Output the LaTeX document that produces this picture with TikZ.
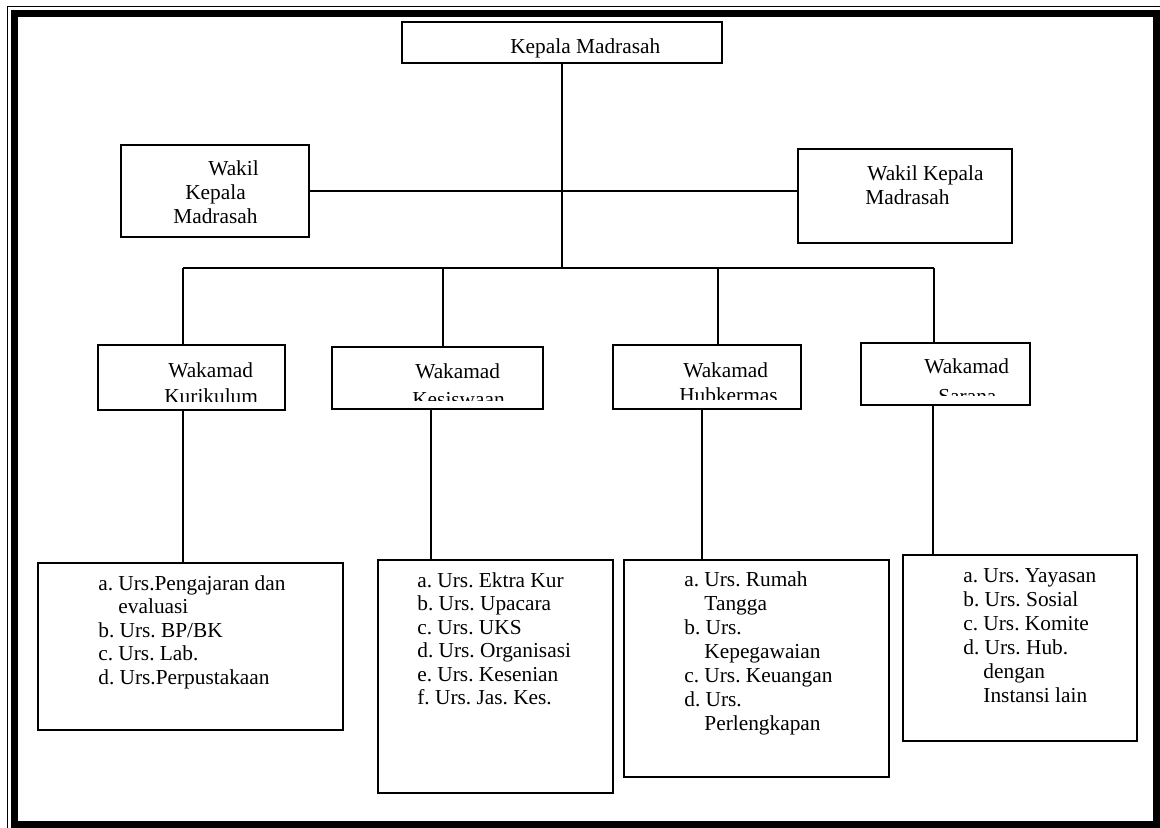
\documentclass[tikz,border=0pt]{standalone}
\usepackage{fontspec}
\setmainfont{Liberation Serif}
\usetikzlibrary{fit}
\begin{document}
\frenchspacing
\begin{tikzpicture}[x=0.6pt,y=-0.6pt,
  box/.style={draw, line width=1.2pt, inner sep=0pt},
  conn/.style={line width=1.2pt},
  txt/.style={font=\fontsize{12.8}{14.4}\selectfont\frenchspacing, inner sep=0pt, anchor=base west}]
\useasboundingbox (0,0) rectangle (1160,828);
% page border
\draw[line width=4.2pt] (14.5,13.5) rectangle (1156.5,824);
\draw[line width=0.6pt] (7,828) -- (7,6) -- (1160,6);
% boxes
\node[box, fit={(402,22) (722,63)}] (kepala) {};
\node[box, fit={(121,145) (309,237)}] (wakilL) {};
\node[box, fit={(798,149) (1012,243)}] (wakilR) {};
\node[box, fit={(98,345) (285,410)}] (wk1) {};
\node[box, fit={(332,347) (543,409)}] (wk2) {};
\node[box, fit={(613,345) (801,409)}] (wk3) {};
\node[box, fit={(861,343) (1030,405)}] (wk4) {};
\node[box, fit={(38,563) (343,730)}] (b1) {};
\node[box, fit={(378,560) (613,793)}] (b2) {};
\node[box, fit={(624,560) (889,777)}] (b3) {};
\node[box, fit={(903,555) (1137,741)}] (b4) {};
% texts
\begin{scope}
  \clip (402,22) rectangle (722,57);
  \node[txt] (tkep) at (510,53) {Kepala Madrasah};
\end{scope}
\node[txt] (twl1) at (208,175) {Wakil};
\node[txt] (twl2) at (185,199) {Kepala};
\node[txt] (twl3) at (173,223) {Madrasah};
\node[txt] (twr1) at (867,180) {Wakil Kepala};
\node[txt] (twr2) at (865,204) {Madrasah};
\begin{scope}
  \clip (98,345) rectangle (285,401);
  \node[txt] (tw1a) at (168,377) {Wakamad};
  \node[txt] (tw1b) at (164,403) {Kurikulum};
\end{scope}
\begin{scope}
  \clip (332,347) rectangle (543,400);
  \node[txt] (tw2a) at (415,378) {Wakamad};
  \node[txt] (tw2b) at (412,406) {Kesiswaan};
\end{scope}
\begin{scope}
  \clip (613,345) rectangle (801,399);
  \node[txt] (tw3a) at (683,377) {Wakamad};
  \node[txt] (tw3b) at (679,402) {Hubkermas};
\end{scope}
\begin{scope}
  \clip (861,343) rectangle (1030,395);
  \node[txt] (tw4a) at (924,373) {Wakamad};
  \node[txt] (tw4b) at (938,403) {Sarana};
\end{scope}
\foreach \t [count=\i from 0] in {a. Urs.Pengajaran dan, \phantom{a. }evaluasi, b. Urs. BP/BK, c. Urs. Lab., d. Urs.Perpustakaan}
  \node[txt] (tb1l\i) at (98,{590+23.5*\i}) {\t};
\foreach \t [count=\i from 0] in {a. Urs. Ektra Kur, b. Urs. Upacara, c. Urs. UKS, d. Urs. Organisasi, e. Urs. Kesenian, f. Urs. Jas. Kes.}
  \node[txt] (tb2l\i) at (417,{587+23.5*\i}) {\t};
\foreach \t [count=\i from 0] in {a. Urs. Rumah, \phantom{a. }Tangga, b. Urs., \phantom{a. }Kepegawaian, c. Urs. Keuangan, d. Urs., \phantom{a. }Perlengkapan}
  \node[txt] (tb3l\i) at (684,{586+24*\i}) {\t};
\foreach \t [count=\i from 0] in {a. Urs. Yayasan, b. Urs. Sosial, c. Urs. Komite, d. Urs. Hub., \phantom{a. }dengan, \phantom{a. }Instansi lain}
  \node[txt] (tb4l\i) at (963,{582+24*\i}) {\t};
% connectors
\coordinate (busM) at (562,268);
\coordinate (d1) at (183,268);
\coordinate (d2) at (443,268);
\coordinate (d3) at (718,268);
\coordinate (d4) at (934,268);
\coordinate (e1) at (183,0);
\coordinate (e2) at (431,0);
\coordinate (e3) at (702,0);
\coordinate (e4) at (933,0);
\draw[conn] (kepala.south) -- (busM);
\draw[conn] (wakilL.east) -- (wakilL.east -| wakilR.west);
\draw[conn] (d1) -- (d4);
\draw[conn] (d1) -- (d1 |- wk1.north);
\draw[conn] (d2) -- (d2 |- wk2.north);
\draw[conn] (d3) -- (d3 |- wk3.north);
\draw[conn] (d4) -- (d4 |- wk4.north);
\draw[conn] (wk1.south -| e1) -- (b1.north -| e1);
\draw[conn] (wk2.south -| e2) -- (b2.north -| e2);
\draw[conn] (wk3.south -| e3) -- (b3.north -| e3);
\draw[conn] (wk4.south -| e4) -- (b4.north -| e4);
\end{tikzpicture}
\end{document}
